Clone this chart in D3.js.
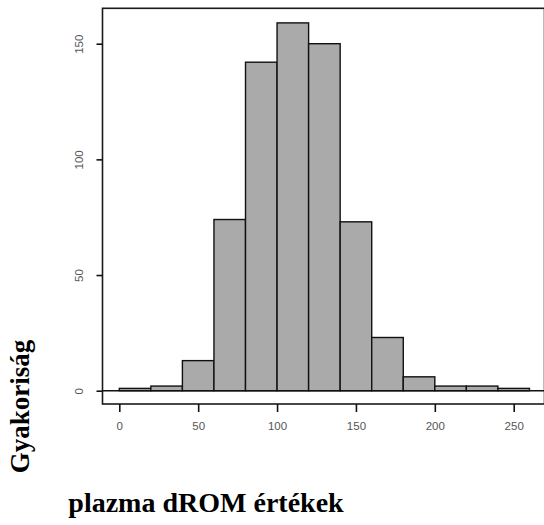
<!DOCTYPE html>
<html>
<head>
<meta charset="utf-8">
<script src="https://cdn.jsdelivr.net/npm/d3@7"></script>
<style>
  html, body { margin: 0; padding: 0; background: #fff; }
  svg { display: block; }
</style>
</head>
<body>
<svg id="chart" width="544" height="525"></svg>
<script>
// Histogram of plasma dROM values, bins of width 20
const binStarts = [0, 20, 40, 60, 80, 100, 120, 140, 160, 180, 200, 220, 240];
const counts    = [1, 2, 13, 74, 142, 159, 150, 73, 23, 6, 2, 2, 1];
const binWidth = 20;
const xTicks = [0, 50, 100, 150, 200, 250];
const yTicks = [0, 50, 100, 150];
const xTitle = "plazma dROM értékek";
const yTitle = "Gyakoriság";

const svg = d3.select("#chart");

// plotting frame
const frame = { left: 102.5, top: 8.3, right: 544.5, bottom: 404 };

const x = d3.scaleLinear().domain([0, 250]).range([119.3, 513.7]);
const y = d3.scaleLinear().domain([0, 150]).range([390.7, 43.7]);

// bars
svg.append("g")
  .selectAll("rect")
  .data(binStarts.map((s, i) => ({ s, c: counts[i] })))
  .join("rect")
  .attr("x", d => x(d.s))
  .attr("y", d => y(d.c))
  .attr("width", d => x(d.s + binWidth) - x(d.s))
  .attr("height", d => y(0) - y(d.c))
  .attr("fill", "#aaaaaa")
  .attr("stroke", "#111")
  .attr("stroke-width", 1.4);

// zero line across the frame
svg.append("line")
  .attr("x1", frame.left).attr("x2", 546)
  .attr("y1", y(0)).attr("y2", y(0))
  .attr("stroke", "#111").attr("stroke-width", 1.4);

// frame
svg.append("rect")
  .attr("x", frame.left).attr("y", frame.top)
  .attr("width", frame.right - frame.left)
  .attr("height", frame.bottom - frame.top)
  .attr("fill", "none")
  .attr("stroke", "#1a1a1a")
  .attr("stroke-width", 1.6);

// x axis
const gx = svg.append("g")
  .attr("transform", `translate(0,${frame.bottom})`)
  .call(d3.axisBottom(x).tickValues(xTicks).tickSize(8).tickPadding(10).tickFormat(d3.format("d")));
gx.select(".domain").remove();
gx.selectAll(".tick line").attr("stroke", "#111").attr("stroke-width", 1.6);
gx.selectAll(".tick text")
  .attr("font-family", "'Liberation Sans', Arial, sans-serif")
  .attr("font-size", 11.5)
  .attr("fill", "#555");

// y axis with rotated labels
const gy = svg.append("g")
  .attr("transform", `translate(${frame.left},0)`)
  .call(d3.axisLeft(y).tickValues(yTicks).tickSize(6).tickFormat(d3.format("d")));
gy.select(".domain").remove();
gy.selectAll(".tick line").attr("stroke", "#111").attr("stroke-width", 1.6);
gy.selectAll(".tick text")
  .attr("x", null).attr("dy", null)
  .attr("transform", "translate(-19.5,0) rotate(-90)")
  .attr("text-anchor", "middle")
  .attr("font-family", "'Liberation Sans', Arial, sans-serif")
  .attr("font-size", 11.5)
  .attr("fill", "#555");

// axis titles
svg.append("text")
  .attr("x", 206).attr("y", 512)
  .attr("text-anchor", "middle")
  .attr("font-family", "'Liberation Serif', 'Times New Roman', serif")
  .attr("font-weight", "bold")
  .attr("font-size", 28)
  .attr("fill", "#000")
  .text(xTitle);

svg.append("text")
  .attr("transform", "translate(29,406.5) rotate(-90)")
  .attr("text-anchor", "middle")
  .attr("font-family", "'Liberation Serif', 'Times New Roman', serif")
  .attr("font-weight", "bold")
  .attr("font-size", 27)
  .attr("fill", "#000")
  .text(yTitle);
</script>
</body>
</html>
